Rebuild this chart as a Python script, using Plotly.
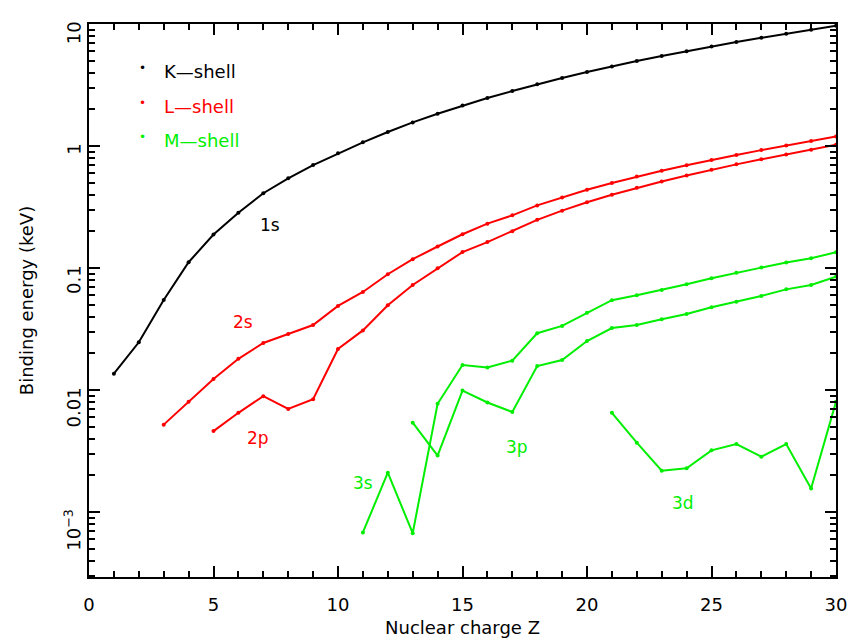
import plotly.graph_objects as go

# Nuclear charge
z_k = list(range(1, 31))
z_2s = list(range(3, 31))
z_2p = list(range(5, 31))
z_3s = list(range(11, 31))
z_3p = list(range(13, 31))
z_3d = list(range(21, 31))

# Binding energies (keV)
e_1s = [0.0136, 0.0246, 0.0547, 0.1115, 0.188, 0.284, 0.410, 0.543, 0.697, 0.870,
        1.071, 1.303, 1.560, 1.839, 2.146, 2.472, 2.822, 3.206, 3.608, 4.039,
        4.492, 4.966, 5.465, 5.989, 6.539, 7.112, 7.709, 8.333, 8.979, 9.659]
e_2s = [0.0052, 0.0080, 0.0123, 0.0180, 0.0243, 0.0288, 0.0341, 0.0489,
        0.0636, 0.0889, 0.118, 0.150, 0.189, 0.231, 0.270, 0.326, 0.379, 0.438,
        0.498, 0.561, 0.627, 0.696, 0.769, 0.845, 0.925, 1.009, 1.097, 1.196]
e_2p = [0.0046, 0.0065, 0.0089, 0.0070, 0.0084, 0.0217,
        0.0308, 0.0495, 0.0726, 0.0994, 0.135, 0.163, 0.200, 0.248, 0.295, 0.346,
        0.399, 0.454, 0.512, 0.574, 0.639, 0.707, 0.778, 0.853, 0.933, 1.022]
e_3s = [0.00068, 0.0021, 0.00067, 0.0077, 0.0160, 0.0153, 0.0174, 0.0292, 0.0335, 0.0430,
        0.0545, 0.0597, 0.0660, 0.0735, 0.0823, 0.0916, 0.1007, 0.111, 0.120, 0.1346]
e_3p = [0.0054, 0.0029, 0.0099, 0.0079, 0.0066, 0.0157, 0.0176, 0.0252,
        0.0322, 0.0341, 0.0380, 0.0420, 0.0476, 0.0530, 0.0590, 0.0668, 0.0726, 0.0850]
e_3d = [0.0065, 0.0037, 0.00218, 0.00228, 0.0032, 0.0036, 0.00284, 0.0036, 0.00156, 0.0080]

# Axis ticks
x_major = [0, 5, 10, 15, 20, 25, 30]
y_major = [0.001, 0.01, 0.1, 1, 10]
y_major_text = ["10<sup>−3</sup>", "0.01", "0.1", "1", "10"]

BLACK = "#000000"
RED = "#ff0000"
GREEN = "#00ee00"
FONT = "DejaVu Sans"

X_RANGE = [0, 30]
Y_RANGE = [-3.533, 1]          # log10 keV
PLOT_W, PLOT_H = 747, 553      # plotting area in px

series = [
    (z_k, e_1s, BLACK),
    (z_2s, e_2s, RED),
    (z_2p, e_2p, RED),
    (z_3s, e_3s, GREEN),
    (z_3p, e_3p, GREEN),
    (z_3d, e_3d, GREEN),
]

fig = go.Figure()
for z, e, c in series:
    fig.add_trace(go.Scatter(
        x=z, y=e, mode="lines+markers",
        line=dict(color=c, width=2),
        marker=dict(color=c, size=4),
        showlegend=False, hoverinfo="x+y",
    ))

# Orbital labels next to each curve (x in Z, y in log10 keV)
orbital_labels = [
    ("1s", 7.25, -0.645, BLACK),
    ("2s", 6.18, -1.445, RED),
    ("2p", 6.78, -2.393, RED),
    ("3s", 11.0, -2.765, GREEN),
    ("3p", 17.2, -2.468, GREEN),
    ("3d", 23.85, -2.926, GREEN),
]
for txt, x, y, c in orbital_labels:
    fig.add_annotation(x=x, y=y, xref="x", yref="y", text=txt, showarrow=False,
                       font=dict(family=FONT, size=17, color=c))

# Legend: dot + coloured label
legend_items = [("K—shell", BLACK), ("L—shell", RED), ("M—shell", GREEN)]
for i, (name, c) in enumerate(legend_items):
    yy = 1 - (59 + 34.5 * i - 24) / PLOT_H
    fig.add_annotation(x=(137 - 89) / PLOT_W, y=yy, xref="paper", yref="paper",
                       text="•", showarrow=False,
                       font=dict(family=FONT, size=12, color=c))
    fig.add_annotation(x=(162 - 89) / PLOT_W, y=yy, xref="paper", yref="paper",
                       text=name, showarrow=False, xanchor="left",
                       font=dict(family=FONT, size=18, color=c))

fig.update_layout(
    width=849, height=639,
    margin=dict(l=89, r=13, t=24, b=62),
    paper_bgcolor="white", plot_bgcolor="white",
    font=dict(family=FONT, size=18, color="black"),
    showlegend=False,
)
fig.update_xaxes(
    range=X_RANGE, tickmode="array", tickvals=x_major,
    ticks="inside", ticklen=11, tickwidth=2, tickcolor="black",
    minor=dict(tickmode="linear", tick0=0, dtick=1, ticks="inside",
               ticklen=6, tickwidth=2, tickcolor="black"),
    showline=True, linecolor="black", linewidth=2, mirror="ticks",
    showgrid=False, zeroline=False, automargin=False,
    ticklabelstandoff=10,
    title=dict(text="Nuclear charge Z", standoff=8, font=dict(size=18)),
    tickfont=dict(size=18),
)
fig.update_yaxes(
    type="log", range=Y_RANGE,
    tickmode="array", tickvals=y_major, ticktext=y_major_text,
    tickangle=-89.9,
    ticks="inside", ticklen=11, tickwidth=2, tickcolor="black",
    minor=dict(dtick="D1", ticks="inside", ticklen=6, tickwidth=2, tickcolor="black"),
    showline=True, linecolor="black", linewidth=2, mirror="ticks",
    showgrid=False, zeroline=False, automargin=False,
    ticklabelstandoff=12,
    title=dict(text="Binding energy (keV)", standoff=22, font=dict(size=18)),
    tickfont=dict(size=18),
)

fig.write_html("out.html")
